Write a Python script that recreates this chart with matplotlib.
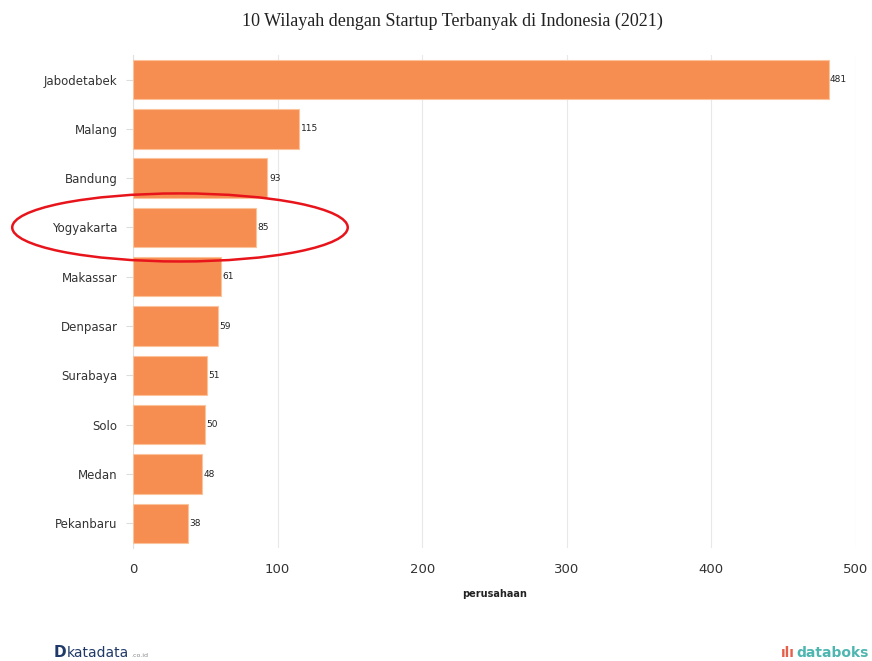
import matplotlib
matplotlib.use("Agg")
import matplotlib.pyplot as plt
from matplotlib.patches import Ellipse

# data
wilayah = ["Jabodetabek", "Malang", "Bandung", "Yogyakarta", "Makassar",
           "Denpasar", "Surabaya", "Solo", "Medan", "Pekanbaru"]
jumlah = [481, 115, 93, 85, 61, 59, 51, 50, 48, 38]
xticks = [0, 100, 200, 300, 400, 500]
sorot = "Yogyakarta"

fig = plt.figure(figsize=(8.72, 6.61), dpi=100)
ax = fig.add_axes([0.1525, 0.171, 0.8292, 0.746])

pos = list(range(len(wilayah)))
ax.barh(pos, jumlah, height=0.8, color="#F68E51", edgecolor="#FBC39C",
        linewidth=0.8, zorder=3)
for p, v in zip(pos, jumlah):
    ax.text(v + 1, p, str(v), va="center", ha="left", fontsize=6.5,
            color="#222222", zorder=4)

ax.set_ylim(len(wilayah) - 0.5, -0.5)
ax.set_xlim(0, 500)
ax.set_xticks(xticks)
ax.set_xticklabels([str(t) for t in xticks], fontsize=9.5, color="#333333")
ax.set_yticks(pos)
ax.set_yticklabels(wilayah, fontsize=8.5, color="#333333")
ax.tick_params(axis="y", length=5, color="#dddddd", pad=6)
ax.tick_params(axis="x", length=0, pad=11)
ax.grid(axis="x", color="#e8e8e8", linewidth=0.8, zorder=0)
for s in ["top", "right", "bottom"]:
    ax.spines[s].set_visible(False)
ax.spines["left"].set_color("#e0e0e0")
ax.spines["left"].set_linewidth(0.8)

ax.set_xlabel("perusahaan", fontsize=7, fontweight="bold", color="#222222",
              labelpad=9)

# red ellipse round the highlighted row
yi = wilayah.index(sorot)
ax.add_patch(Ellipse((32.5, yi), width=232, height=1.38, fill=False,
                     edgecolor="#E8141B", linewidth=1.8, clip_on=False,
                     zorder=5))

fig.text(0.519, 0.968, "10 Wilayah dengan Startup Terbanyak di Indonesia (2021)",
         ha="center", va="center", fontsize=13, family="Liberation Serif",
         color="#222222")

# footer logos as text
fig.text(0.062, 0.002, "D", fontsize=11, fontweight="bold", color="#1F3A68",
         ha="left", va="bottom")
fig.text(0.077, 0.002, "katadata", fontsize=10, color="#1F3A68",
         ha="left", va="bottom")
fig.text(0.151, 0.004, ".co.id", fontsize=4.5, color="#888888",
         ha="left", va="bottom")
fig.text(0.911, 0.002, "ılı", fontsize=10, fontweight="bold", color="#E4604A",
         ha="right", va="bottom")
fig.text(0.913, 0.002, "databoks", fontsize=10, fontweight="bold",
         color="#4DB6B0", ha="left", va="bottom")

plt.savefig("out.png", dpi=100)
